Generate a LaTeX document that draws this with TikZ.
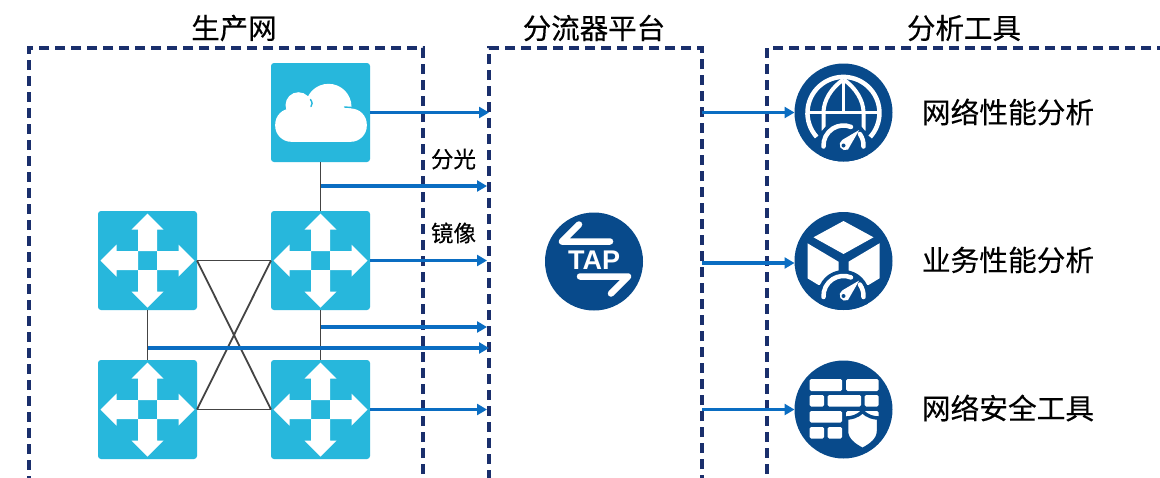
\documentclass[tikz,border=0pt]{standalone}
\usepackage{fontspec}
\newfontfamily\cjk[FakeBold=0.3]{Noto Sans CJK SC}
\newfontfamily\latinb{Liberation Sans}[BoldFont={Liberation Sans Bold}]
\usetikzlibrary{arrows.meta}
\definecolor{teal1}{HTML}{27B7DC}
\definecolor{navy1}{HTML}{084A8B}
\definecolor{flow}{HTML}{0A6DC2}
\definecolor{dashc}{HTML}{1A2F6C}
\definecolor{wire}{HTML}{444444}
\tikzset{
  zone/.style={draw=dashc,line width=3.1pt,dash pattern=on 10pt off 6pt,inner sep=0pt,outer sep=0pt,anchor=north west},
  device/.style={fill=teal1,rounded corners=3pt,minimum size=99pt,inner sep=0pt,outer sep=0pt},
  roundicon/.style={circle,fill=navy1,minimum size=98pt,inner sep=0pt,outer sep=0pt},
  wirel/.style={draw=wire,line width=1.8pt},
  flowl/.style={draw=flow,line width=3.5pt,-{Triangle[length=10pt,width=11pt]}},
  ztitle/.style={inner sep=0pt,font=\cjk\fontsize{28.5}{30}\selectfont,text=black},
  ztool/.style={inner sep=0pt,font=\cjk\fontsize{28.7}{30}\selectfont,text=black},
  zsmall/.style={inner sep=0pt,font=\cjk\fontsize{22.5}{24}\selectfont,text=black},
  switchmark/.pic={
    \begin{scope}[x=1pt,y=1pt]
      \foreach \a in {0,90,180,270}{
        \fill[white,rotate=\a] (9.5,-9.5)--(31,-9.5)--(31,-16)--(47,0)--(31,16)--(31,9.5)--(9.5,9.5)--cycle;
      }
    \end{scope}
  },
  cloudmark/.pic={
    \begin{scope}[x=1pt,y=1pt]
      \fill[white,rounded corners=16pt] (-45.3,-29.3) rectangle (46.3,4);
      \fill[white] (-22,7.3) circle[radius=13pt];
      \fill[white] (8,5.7) circle[radius=23pt];
      \fill[white] (-14,-5) rectangle (25,8);
      \draw[teal1,line width=1.4pt,line cap=round] (-10,13) .. controls (-8,10) and (-8,8) .. (-9.5,6);
      \draw[teal1,line width=1.4pt,line cap=round] (24,5.5) -- (31,5);
    \end{scope}
  },
  gaugemark/.pic={
    \begin{scope}[x=1pt,y=1pt]
      \fill[navy1] (0,0) circle[radius=26pt];
      \draw[white,line width=4.5pt,line cap=round] (-20,-1) arc[start angle=183,end angle=68,radius=20pt];
      \draw[white,line width=4.5pt,line cap=round] (16.4,11.5) arc[start angle=35,end angle=-3,radius=20pt];
      \fill[white] (15.7,15.5) -- (4.5,-4) arc[start angle=-60,end angle=-240,radius=5.6pt] -- cycle;
      \fill[navy1] (0,0) circle[radius=2pt];
    \end{scope}
  },
  globemark/.pic={
    \begin{scope}[x=1pt,y=1pt]
      \draw[white,line width=4.5pt] (-26.8,-24.5) arc[start angle=222,end angle=-42,radius=36pt];
      \draw[white,line width=3.5pt] (-35,0) -- (35,0);
      \draw[white,line width=3.5pt] (0,33) -- (0,0);
      \draw[white,line width=4pt] (0,33) .. controls (-12,25) and (-20,12) .. (-20,0) -- (-20,-18);
      \draw[white,line width=4pt] (0,33) .. controls (12,25) and (20,12) .. (20,0) -- (20,-18);
      \begin{scope}
        \clip (0,0) circle[radius=49pt];
        \pic at (0,-33) {gaugemark};
      \end{scope}
    \end{scope}
  },
  cubemark/.pic={
    \begin{scope}[x=1pt,y=1pt]
      \fill[white] (0,40) -- (30,23.7) -- (0,7) -- (-30,23.7) -- cycle;
      \fill[white] (-36,17.7) -- (-5,-0.7) -- (-5,-20) -- (-25,-24) -- (-36,-17.3) -- cycle;
      \fill[white] (36,17.7) -- (5,-0.7) -- (5,-20) -- (25,-24) -- (36,-17.3) -- cycle;
      \begin{scope}
        \clip (0,0) circle[radius=49pt];
        \pic at (0,-35) {gaugemark};
      \end{scope}
    \end{scope}
  },
  brickmark/.pic={
    \begin{scope}[x=1pt,y=1pt]
      \begin{scope}[white,rounded corners=1.5pt]
        \fill (-34,30.5) rectangle (-1.5,18.5);
        \fill (2.5,30.5) rectangle (35,18.5);
        \fill (-34,14.5) rectangle (-19.5,3);
        \fill (-16,14.5) rectangle (17.5,3);
        \fill (21,14.5) rectangle (35,3);
        \fill (-34,-1.5) rectangle (-1.5,-13);
        \fill (2.5,-1.5) rectangle (35,-13);
        \fill (-34,-17.5) rectangle (-19.5,-29);
        \fill (-16,-17.5) rectangle (-1.5,-29);
      \end{scope}
      \path[fill=white,draw=navy1,line width=3.5pt,line join=round]
        (19,-2) .. controls (24,-7) and (30,-8.5) .. (35,-8.5) -- (35,-22)
        .. controls (35,-30) and (27,-36) .. (19,-40)
        .. controls (11,-36) and (3,-30) .. (3,-22) -- (3,-8.5)
        .. controls (8,-8.5) and (14,-7) .. cycle;
    \end{scope}
  },
  tapmark/.pic={
    \begin{scope}[x=1pt,y=1pt]
      \draw[white,line width=6.5pt,line cap=round,line join=round] (16,20) -- (-32,20) -- (-15,37);
      \draw[white,line width=6.5pt,line cap=round,line join=round] (-14,-15) -- (34,-15) -- (17,-32);
    \end{scope}
  }
}
\begin{document}
\begin{tikzpicture}[x=1pt,y=-1pt]
  \path[use as bounding box,clip] (0,0) rectangle (1160,477);
  \fill[white] (0,0) rectangle (1160,477);

  % zones
  \node[zone,minimum width=394pt,minimum height=432pt] (prod) at (29,48) {};
  \node[zone,minimum width=213pt,minimum height=432pt] (tapzone) at (489,48) {};
  \node[zone,minimum width=440pt,minimum height=432pt] (tools) at (767,48) {};

  % titles
  \node[ztitle] (tprod) at (234,28) {生产网};
  \node[ztitle] (ttap) at (594,28) {分流器平台};
  \node[ztitle] (ttools) at (964,28) {分析工具};

  % devices
  \node[device] (cloud) at (320.5,112.5) {};
  \node[device] (s1) at (147.5,260.5) {};
  \node[device] (s2) at (320.5,260.5) {};
  \node[device] (s3) at (147.5,409.5) {};
  \node[device] (s4) at (320.5,409.5) {};
  \pic at (cloud) {cloudmark};
  \pic at (s1) {switchmark};
  \pic at (s2) {switchmark};
  \pic at (s3) {switchmark};
  \pic at (s4) {switchmark};

  % wires
  \draw[wirel] (cloud.south) -- (s2.north);
  \draw[wirel] (s2.south) -- (s4.north);
  \draw[wirel] (s1.south) -- (s3.north);
  \draw[wirel] (s1.east) -- (s2.west);
  \draw[wirel] (s3.east) -- (s4.west);
  \draw[wirel] (s1.east) -- (s4.west);
  \draw[wirel] (s2.west) -- (s3.east);

  % round icons
  \node[roundicon] (tap) at (594,261.5) {};
  \pic at (tap) {tapmark};
  \node[inner sep=0pt,text=white,font=\latinb\bfseries\fontsize{27}{27}\selectfont] (taptxt) at (594,260) {TAP};
  \node[roundicon] (net) at (843.5,112.5) {};
  \pic at (net) {globemark};
  \node[roundicon] (app) at (843.5,261) {};
  \pic at (app) {cubemark};
  \node[roundicon] (sec) at (843.5,409.5) {};
  \pic at (sec) {brickmark};

  % flow end points
  \coordinate (j1) at (321,186);
  \coordinate (j2) at (321,327);
  \coordinate (j3) at (147.5,348);
  \coordinate (e0) at (489,112.5);
  \coordinate (e1) at (487,186);
  \coordinate (e2) at (487,260.5);
  \coordinate (e3) at (487,327);
  \coordinate (e4) at (489,348);
  \coordinate (e5) at (487,409.5);
  \coordinate (o1) at (702,112.5);
  \coordinate (o2) at (702,263);
  \coordinate (o3) at (702,409.5);

  \draw[flowl] (cloud.east) -- (e0);
  \draw[flowl] (j1) -- (e1);
  \draw[flowl] (s2.east) -- (e2);
  \draw[flowl] (j2) -- (e3);
  \draw[flowl] (j3) -- (e4);
  \draw[flowl] (s4.east) -- (e5);
  \draw[flowl] (o1) -- (net.west);
  \draw[flowl] (o2) -- (o2 -| app.west);
  \draw[flowl] (o3) -- (sec.west);

  % labels
  \node[zsmall] (lsplit) at (453.5,159) {分光};
  \node[zsmall] (lmirror) at (453.5,233) {镜像};
  \node[ztool] (tnet) at (1008,112) {网络性能分析};
  \node[ztool] (tapp) at (1008,260) {业务性能分析};
  \node[ztool] (tsec) at (1008,408) {网络安全工具};
\end{tikzpicture}
\end{document}
